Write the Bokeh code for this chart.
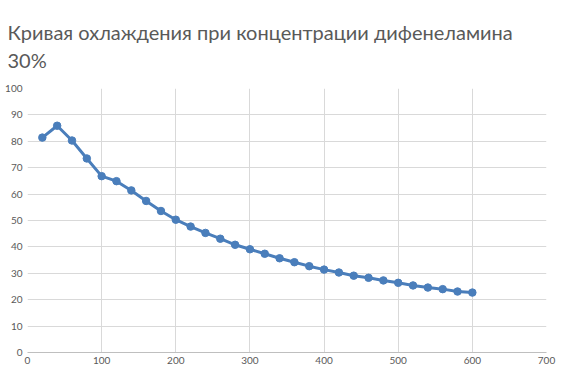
from bokeh.plotting import figure
from bokeh.models import Range1d, FixedTicker, Title
from bokeh.embed import file_html
from bokeh.resources import INLINE

title_text = "Кривая охлаждения при концентрации дифенеламина\n30%"

time_s = [20, 40, 60, 80, 100, 120, 140, 160, 180, 200,
          220, 240, 260, 280, 300, 320, 340, 360, 380, 400,
          420, 440, 460, 480, 500, 520, 540, 560, 580, 600]
temperature = [81.4, 85.9, 80.3, 73.5, 66.8, 64.9, 61.4, 57.4, 53.6, 50.3,
               47.7, 45.3, 43.1, 40.8, 39.1, 37.4, 35.7, 34.2, 32.7, 31.4,
               30.3, 29.1, 28.3, 27.3, 26.4, 25.4, 24.6, 24.0, 23.1, 22.7]
x_ticks = [0, 100, 200, 300, 400, 500, 600, 700]
y_ticks = [0, 10, 20, 30, 40, 50, 60, 70, 80, 90, 100]

FONT = "Lato"
TXT = "#595959"
GRID = "#d9d9d9"
BLUE = "#4a7ebb"

p = figure(width=571, height=374, output_backend="svg", toolbar_location=None,
           x_range=Range1d(0, 700), y_range=Range1d(0, 100),
           min_border_left=27, min_border_right=25, min_border_top=88, min_border_bottom=22)
p.background_fill_color = "white"
p.border_fill_color = "white"
p.outline_line_color = None

t = Title(text=title_text, align="left", offset=-20, standoff=32,
          text_font=FONT, text_font_size="20px", text_color=TXT, text_font_style="normal",
          text_line_height=1.2)
p.add_layout(t, "above")

p.xaxis.ticker = FixedTicker(ticks=x_ticks)
p.yaxis.ticker = FixedTicker(ticks=y_ticks)
for ax in (p.xaxis, p.yaxis):
    ax.major_tick_line_color = None
    ax.minor_tick_line_color = None
    ax.major_tick_out = 0
    ax.major_tick_in = 0
    ax.major_label_text_font = FONT
    ax.major_label_text_font_size = "10px"
    ax.major_label_text_color = TXT
p.xaxis.axis_line_color = "#bfbfbf"
p.xaxis.major_label_standoff = 4
p.yaxis.axis_line_color = None
p.yaxis.major_label_standoff = 5

p.xgrid.ticker = FixedTicker(ticks=x_ticks)
p.ygrid.ticker = FixedTicker(ticks=y_ticks)
p.grid.grid_line_color = GRID
p.grid.grid_line_width = 1

p.line(time_s, temperature, line_color=BLUE, line_width=3)
p.scatter(time_s, temperature, size=7.5, fill_color=BLUE, line_color=BLUE)

open("out.html", "w").write(file_html(p, INLINE))
